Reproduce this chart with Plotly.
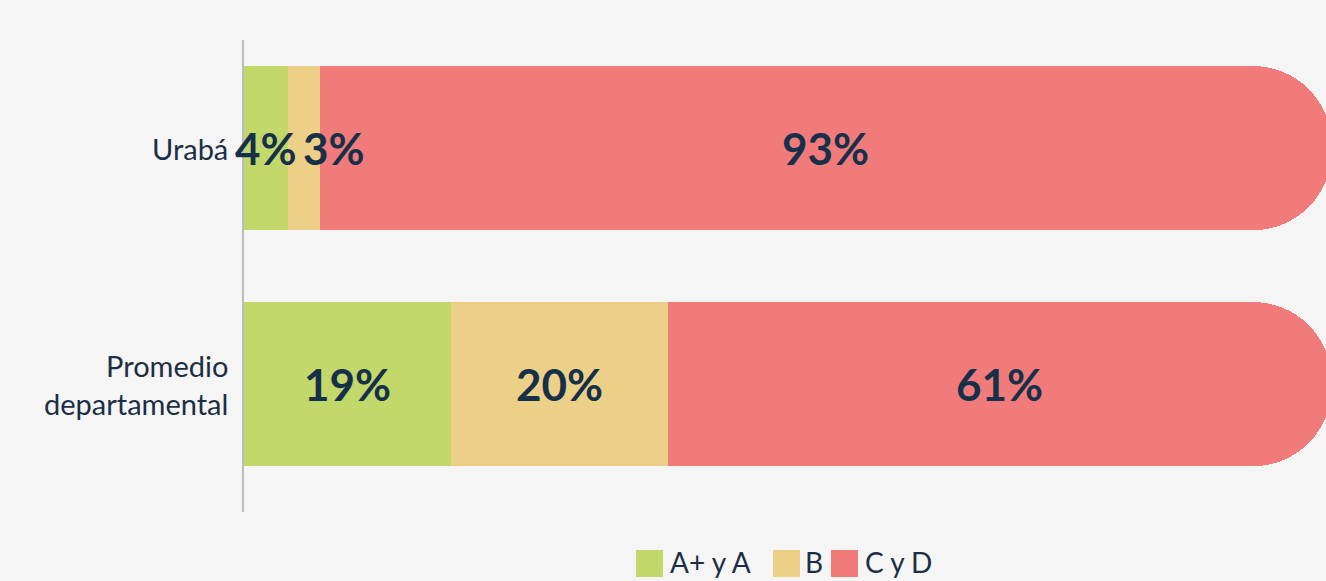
import plotly.graph_objects as go

categories = ["Urabá", "Promedio<br>departamental"]
series_names = ["A+ y A", "B", "C y D"]
values_a = [4, 19]
values_b = [3, 20]
values_c = [93, 61]
colors = ["#c3d86b", "#edd087", "#f17b7a"]

W, H = 1326, 581
ML, MR, MT, MB = 244, 0, 40, 69
PW, PH = W - ML - MR, H - MT - MB
TEXT = "#1b2e45"


def px_x(px):
    return (px - ML) / PW


def px_y(py):
    return (H - MB - py) / PH


fig = go.Figure()
series = [values_a, values_b, values_c]
for name, vals, col in zip(series_names, series, colors):
    fig.add_trace(go.Bar(
        y=categories, x=vals, name=name, orientation="h",
        marker=dict(color=col, line=dict(width=0)),
        width=0.695, hoverinfo="skip", showlegend=False,
    ))

annotations = []
# value labels at segment midpoints
for ci, cat in enumerate(categories):
    cum = 0
    prev_small = False
    for si, vals in enumerate(series):
        v = vals[ci]
        mid = cum + v / 2
        cum += v
        shift = 0
        if v < 6 and prev_small:
            shift = 30
        prev_small = v < 6
        annotations.append(dict(
            x=mid, y=cat, xref="x", yref="y", text=f"{v}%", showarrow=False,
            xshift=shift,
            font=dict(family="Lato", size=44, color="#16304a", weight="bold"),
        ))

# category labels (left)
for cat in categories:
    annotations.append(dict(
        x=0, y=cat, xref="paper", yref="y", text=cat, showarrow=False,
        xanchor="right", align="right", xshift=-14,
        font=dict(family="Lato", size=29, color=TEXT),
    ))

# custom legend
shapes = []
legend_items = [(636, 668), (773, 803), (831, 863)]
for (sq_x, tx_x), name, col in zip(legend_items, series_names, colors):
    shapes.append(dict(type="rect", xref="paper", yref="paper",
                       x0=px_x(sq_x), x1=px_x(sq_x + 27),
                       y0=px_y(577), y1=px_y(550),
                       fillcolor=col, line=dict(width=0)))
    annotations.append(dict(x=px_x(tx_x), y=px_y(562), xref="paper", yref="paper",
                            text=name, showarrow=False, xanchor="left", yanchor="middle",
                            font=dict(family="Lato", size=28, color=TEXT)))

fig.update_layout(
    barmode="stack",
    barcornerradius="48%",
    width=W, height=H,
    margin=dict(l=ML, r=MR, t=MT, b=MB),
    paper_bgcolor="#f5f5f5",
    plot_bgcolor="rgba(0,0,0,0)",
    font=dict(family="Lato", color=TEXT, size=24),
    showlegend=False,
    annotations=annotations,
    shapes=shapes,
)
fig.update_xaxes(range=[0, 99.5], visible=False, showgrid=False, zeroline=False)
fig.update_yaxes(categoryorder="array", categoryarray=categories[::-1],
                 range=[-0.542, 1.458], showline=True, linecolor="#bdbdbd", linewidth=2,
                 showgrid=False, zeroline=False, ticks="", showticklabels=False)

fig.write_html("out.html", config={"displayModeBar": False},
               post_script="document.body.style.margin='0';")
